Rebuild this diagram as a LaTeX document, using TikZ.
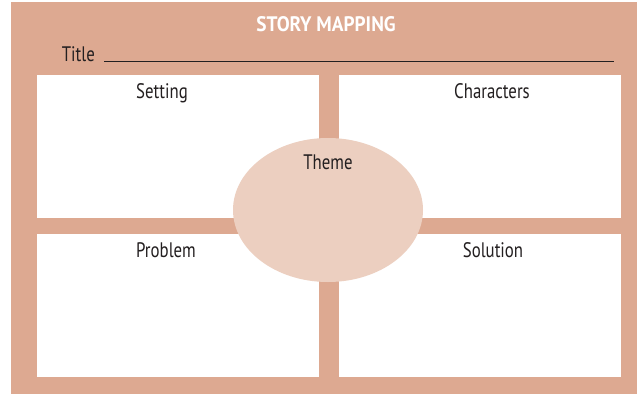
\documentclass[tikz,border=0pt]{standalone}
\usepackage{fontspec}
\setmainfont[FakeStretch=0.8,BoldFeatures={FakeStretch=0.92}]{PT Sans}
\usetikzlibrary{shapes}
\usetikzlibrary{positioning}
\usepackage{xcolor}
\definecolor{frame}{HTML}{DDA991}
\definecolor{themefill}{HTML}{ECCFC0}
\definecolor{ink}{HTML}{231F20}

\tikzset{
  box/.style={fill=white, draw=none, minimum width=282pt, minimum height=143pt, inner sep=0pt},
  lbl/.style={text=ink, font=\fontsize{21}{23}\selectfont, inner sep=0pt, anchor=north}
}

\begin{document}
\begin{tikzpicture}[x=1pt,y=-1pt]
\useasboundingbox (0,0) rectangle (637,394);
\fill[frame] (11,2) rectangle (637,394);
\node[text=white, font=\fontsize{21}{23}\selectfont\bfseries, inner sep=0pt, anchor=base] (head) at (326,31.5) {STORY MAPPING};
\coordinate (tl) at (104,61);
\coordinate (tr) at (614,61);
\node[text=ink, font=\fontsize{21}{23}\selectfont, inner sep=0pt, anchor=base east] (title) at (95,61) {Title};
\draw[ink, line width=1pt] (tl)--(tr);
\node[box] (setting) at (178,146.5) {};
\node[box] (characters) at (480,146.5) {};
\node[box] (problem) at (178,305.5) {};
\node[box] (solution) at (480,305.5) {};
\node[ellipse, fill=themefill, minimum width=190pt, minimum height=144pt, inner sep=0pt] (theme) at (328,210) {};
\node[lbl] (settinglbl) at ([xshift=-16pt,yshift=-8.5pt]setting.north) {Setting};
\node[lbl] (characterslbl) at ([xshift=12pt,yshift=-8.5pt]characters.north) {Characters};
\node[lbl] (problemlbl) at ([xshift=-12pt,yshift=-8.5pt]problem.north) {Problem};
\node[lbl] (solutionlbl) at ([xshift=13pt,yshift=-8.5pt]solution.north) {Solution};
\node[lbl] (themelbl) at ([yshift=-16.5pt]theme.north) {Theme};
\end{tikzpicture}
\end{document}
